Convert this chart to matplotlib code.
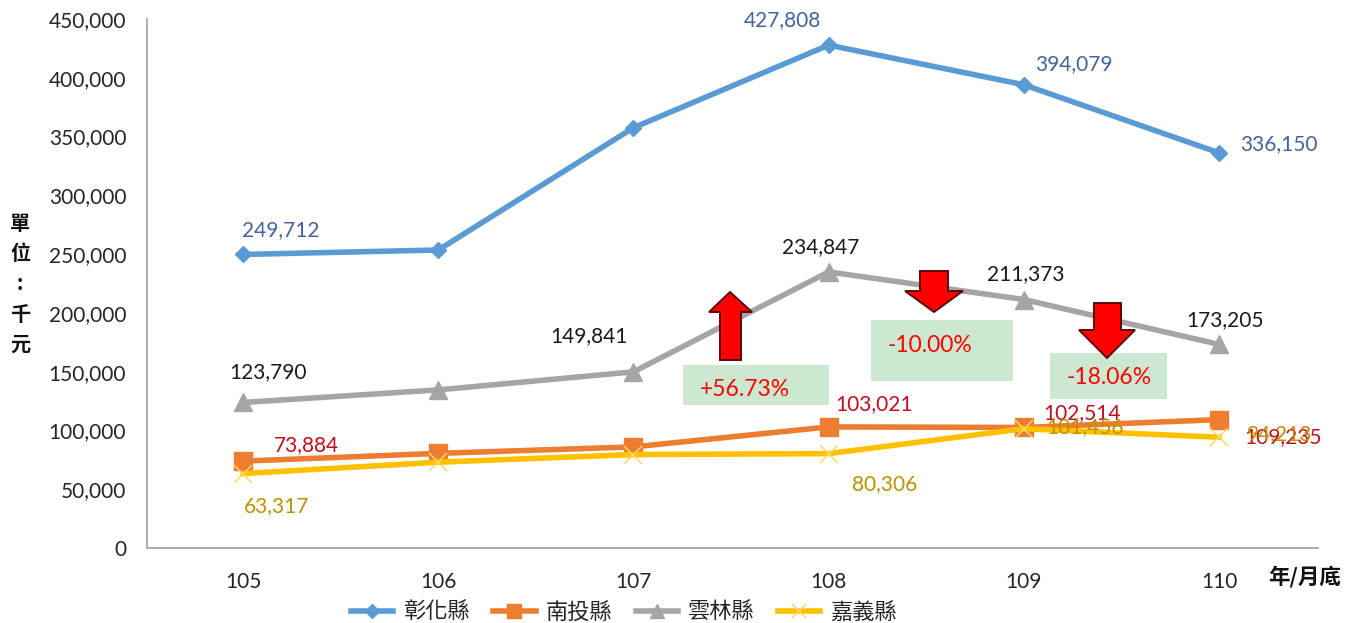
"""Year-end balances for four counties, 105-110, with change arrows."""
import matplotlib
matplotlib.use("Agg")
import matplotlib.pyplot as plt
from matplotlib.patches import Polygon, Rectangle
from matplotlib.ticker import FuncFormatter

W, H = 1362, 623
LATIN = "Lato"
CJK = "Noto Sans CJK TC"
plt.rcParams["font.family"] = [LATIN, CJK]

years = ["105", "106", "107", "108", "109", "110"]
changhua = [249712, 253500, 357500, 427808, 394079, 336150]
nantou = [73884, 80500, 86000, 103021, 102514, 109235]
yunlin = [123790, 134500, 149841, 234847, 211373, 173205]
chiayi = [63317, 73000, 79500, 80306, 101456, 94213]
yticks = list(range(0, 450001, 50000))

fig = plt.figure(figsize=(W / 100, H / 100), dpi=100)
# axes box in pixels: x 147-1318, y 19-548
ax = fig.add_axes([147 / W, 1 - 548 / H, (1318 - 147) / W, (548 - 19) / H])
ax.set_xlim(-0.492, 5.507)
ax.set_ylim(0, 450000)
x = list(range(len(years)))

ax.plot(x, changhua, color="#5B9BD5", lw=4, marker="D", ms=8.5, label="彰化縣", zorder=3)
ax.plot(x, nantou, color="#ED7D31", lw=4, marker="s", ms=13, label="南投縣", zorder=3)
ax.plot(x, yunlin, color="#A5A5A5", lw=4, marker="^", ms=13, label="雲林縣", zorder=3)
ax.plot(x, chiayi, color="#FFC000", lw=4, marker="x", ms=13, mew=1.1, mec="#FFD966",
        label="嘉義縣", zorder=4)

ax.set_xticks(x, years)
ax.set_yticks(yticks)
ax.yaxis.set_major_formatter(FuncFormatter(lambda v, _: f"{int(v):,}"))
ax.tick_params(length=0, labelsize=15, labelcolor="#262626")
ax.tick_params(axis="x", pad=17)
ax.tick_params(axis="y", pad=15)
for s in ("top", "right"):
    ax.spines[s].set_visible(False)
for s in ("left", "bottom"):
    ax.spines[s].set_color("#A6A6A6")
    ax.spines[s].set_linewidth(1.3)


def tag(series, i, dx, dy, color):
    # offsets are in pixels from the marker, y up
    ax.annotate(f"{series[i]:,}", (i, series[i]), xytext=(dx, dy), textcoords="offset pixels",
                ha="center", va="center", fontsize=15, color=color, zorder=6)


for i, dx, dy in [(0, 38, 24), (3, -46, 25), (4, 50, 21), (5, 60, 9)]:
    tag(changhua, i, dx, dy, "#44639C")
for i, dx, dy in [(0, 25, 30), (2, -44, 36), (3, -8, 25), (4, 2, 25), (5, 6, 24)]:
    tag(yunlin, i, dx, dy, "#1A1A1A")
for i, dx, dy in [(0, 63, 16), (3, 45, 23), (4, 58, 14), (5, 64, -18)]:
    tag(nantou, i, dx, dy, "#C00F1C")
for i, dx, dy in [(0, 34, -33), (3, 56, -30), (4, 61, 2), (5, 61, 3)]:
    tag(chiayi, i, dx, dy, "#BF9000")

# overlay in reference pixels for the hand drawn boxes and arrows
ov = fig.add_axes([0, 0, 1, 1], zorder=5)
ov.set_xlim(0, W)
ov.set_ylim(H, 0)
ov.axis("off")
ov.patch.set_alpha(0)

boxes = [(683, 365, 146, 40), (871, 320, 142, 61), (1050, 353, 117, 46)]
for bx, by, bw, bh in boxes:
    ov.add_patch(Rectangle((bx, by), bw, bh, fc="#CDE8D0", ec="none"))

changes = ["+56.73%", "-10.00%", "-18.06%"]
change_pos = [(745, 390), (930, 346), (1109, 378)]
for t, (tx, ty) in zip(changes, change_pos):
    ov.text(tx, ty, t, ha="center", va="center", fontsize=16.5, color="#FF0000")

arrows = [
    [(730, 292), (752, 312), (741, 312), (741, 360), (720, 360), (720, 312), (709, 312)],
    [(934, 312), (963, 291), (948, 291), (948, 271), (920, 271), (920, 291), (905, 291)],
    [(1107, 358), (1135, 330), (1121, 330), (1121, 303), (1094, 303), (1094, 330), (1079, 330)],
]
for pts in arrows:
    ov.add_patch(Polygon(pts, closed=True, fc="#FF0000", ec="#5A0A0A", lw=1.4))

ov.text(20, 284, "單\n位\n:\n千\n元", ha="center", va="center", fontsize=14.5,
        fontweight="bold", color="#111111", linespacing=1.53, family=[CJK, LATIN])
ov.text(1305, 577, "年/月底", ha="center", va="center", fontsize=15.5,
        fontweight="bold", color="#111111", family=[CJK, LATIN])

leg = ax.legend(loc="center", bbox_to_anchor=(624 / W, 1 - 612 / H), bbox_transform=fig.transFigure,
                ncol=4, frameon=False, handlelength=1.9, handletextpad=0.45, columnspacing=1.05,
                prop={"family": [CJK, LATIN], "size": 16}, markerscale=0.8)
for t in leg.get_texts():
    t.set_color("#262626")

fig.savefig("out.png", dpi=100)
